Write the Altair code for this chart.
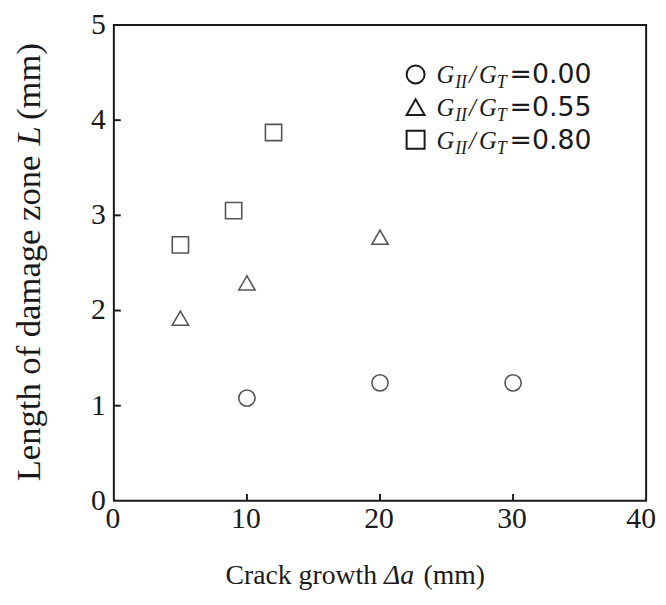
import altair as alt
import pandas as pd

# ---------------- data ----------------
series_names = ["0.00", "0.55", "0.80"]
crack_000 = [10, 20, 30]
dz_000 = [1.08, 1.24, 1.24]
crack_055 = [5, 10, 20]
dz_055 = [1.92, 2.29, 2.77]
crack_080 = [5, 9, 12]
dz_080 = [2.69, 3.05, 3.87]
x_ticks = [0, 10, 20, 30, 40]
y_ticks = [0, 1, 2, 3, 4, 5]
shapes = ["circle", "triangle-up", "square"]

rows = []
for name, xs_, ys_ in zip(series_names, [crack_000, crack_055, crack_080], [dz_000, dz_055, dz_080]):
    for a, b in zip(xs_, ys_):
        rows.append({"ratio": name, "da": a, "L": b})
df = pd.DataFrame(rows)

W, H = 538, 481
SERIF = "Liberation Serif"
SANS = "DejaVu Sans"
INK = "#1a1a1a"

xs = alt.Scale(domain=[0, 40], nice=False, zero=False)
ys = alt.Scale(domain=[0, 5], nice=False, zero=False)
shape_scale = alt.Scale(domain=series_names, range=shapes)

points = alt.Chart(df).mark_point(filled=False, color="#555555", strokeWidth=1.6, size=270, opacity=1).encode(
    x=alt.X("da:Q", scale=xs, axis=None),
    y=alt.Y("L:Q", scale=ys, axis=None),
    shape=alt.Shape("ratio:N", scale=shape_scale, legend=None),
)

# inward ticks
xt = pd.DataFrame({"da": [t for t in x_ticks if 0 < t < 40]})
yt = pd.DataFrame({"L": [t for t in y_ticks if 0 < t < 5]})
xtick = alt.Chart(xt).mark_rule(color=INK, strokeWidth=2).encode(
    x=alt.X("da:Q", scale=xs, axis=None), y=alt.value(H), y2=alt.value(H - 7))
ytick = alt.Chart(yt).mark_rule(color=INK, strokeWidth=2).encode(
    y=alt.Y("L:Q", scale=ys, axis=None), x=alt.value(0), x2=alt.value(7))

# tick labels as text marks placed through the scales
xl_df = pd.DataFrame({"da": x_ticks, "lab": [str(t) for t in x_ticks]})
yl_df = pd.DataFrame({"L": y_ticks, "lab": [str(t) for t in y_ticks]})
xlab_inner = alt.Chart(xl_df).transform_filter("datum.da < 40").mark_text(
    font=SERIF, fontSize=30, color=INK, align="center", baseline="middle", dx=-1).encode(
    x=alt.X("da:Q", scale=xs, axis=None), y=alt.value(H + 18), text="lab:N")
xlab_last = alt.Chart(xl_df).transform_filter("datum.da == 40").mark_text(
    font=SERIF, fontSize=30, color=INK, align="right", baseline="middle", dx=10).encode(
    x=alt.X("da:Q", scale=xs, axis=None), y=alt.value(H + 18), text="lab:N")
ylab = alt.Chart(yl_df).mark_text(
    font=SERIF, fontSize=30, color=INK, align="right", baseline="middle").encode(
    y=alt.Y("L:Q", scale=ys, axis=None), x=alt.value(-8), text="lab:N")

one = pd.DataFrame({"k": [0]})


def txt(text, x, y, font=SERIF, size=31, style="normal", align="left", baseline="alphabetic", angle=0):
    return alt.Chart(one).mark_text(text=text, font=font, fontSize=size, fontStyle=style, align=align,
                                    baseline=baseline, angle=angle, color=INK).encode(
        x=alt.value(x), y=alt.value(y))


layers = [points, xtick, ytick, xlab_inner, xlab_last, ylab]

# x axis title  (plot-relative coordinates)
XT_Y = 565
layers += [
    txt("Crack growth", 266, XT_Y, size=28, align="right"),
    txt("Δa", 273, XT_Y, size=28, style="italic", align="left"),
    txt("(mm)", 313, XT_Y, size=28, align="left"),
]

# y axis title (rotated)
YT_X = -86
layers += [
    txt("Length of damage zone", YT_X, 132, size=35, align="right", baseline="middle", angle=270),
    txt("L", YT_X, 112, size=35, style="italic", align="center", baseline="middle", angle=270),
    txt("(mm)", YT_X, 96, size=35, align="left", baseline="middle", angle=270),
]

# legend
leg_y = [50, 83, 116]
for name, shp, py in zip(series_names, shapes, leg_y):
    layers.append(
        alt.Chart(pd.DataFrame({"ratio": [name]})).mark_point(
            shape=shp, filled=False, color=INK, strokeWidth=2, size=330, opacity=1).encode(
            x=alt.value(305), y=alt.value(py)))
    layers += [
        txt("G", 326, py + 9, size=25, style="italic"),
        txt("II", 345, py + 14, size=18, style="italic"),
        txt("/", 359, py + 9, size=25, style="italic"),
        txt("G", 369, py + 9, size=25, style="italic"),
        txt("T", 387, py + 14, size=18, style="italic"),
        txt("=" + name, 400, py + 9, font=SANS, size=27),
    ]

chart = alt.layer(*layers).properties(
    width=W, height=H,
    autosize=alt.AutoSizeParams(type="none"),
    padding={"left": 107, "top": 14, "right": 12, "bottom": 94},
    background="white",
).configure_view(stroke=INK, strokeWidth=2)

chart.save("out.html", embed_options={"renderer": "svg", "actions": False})
